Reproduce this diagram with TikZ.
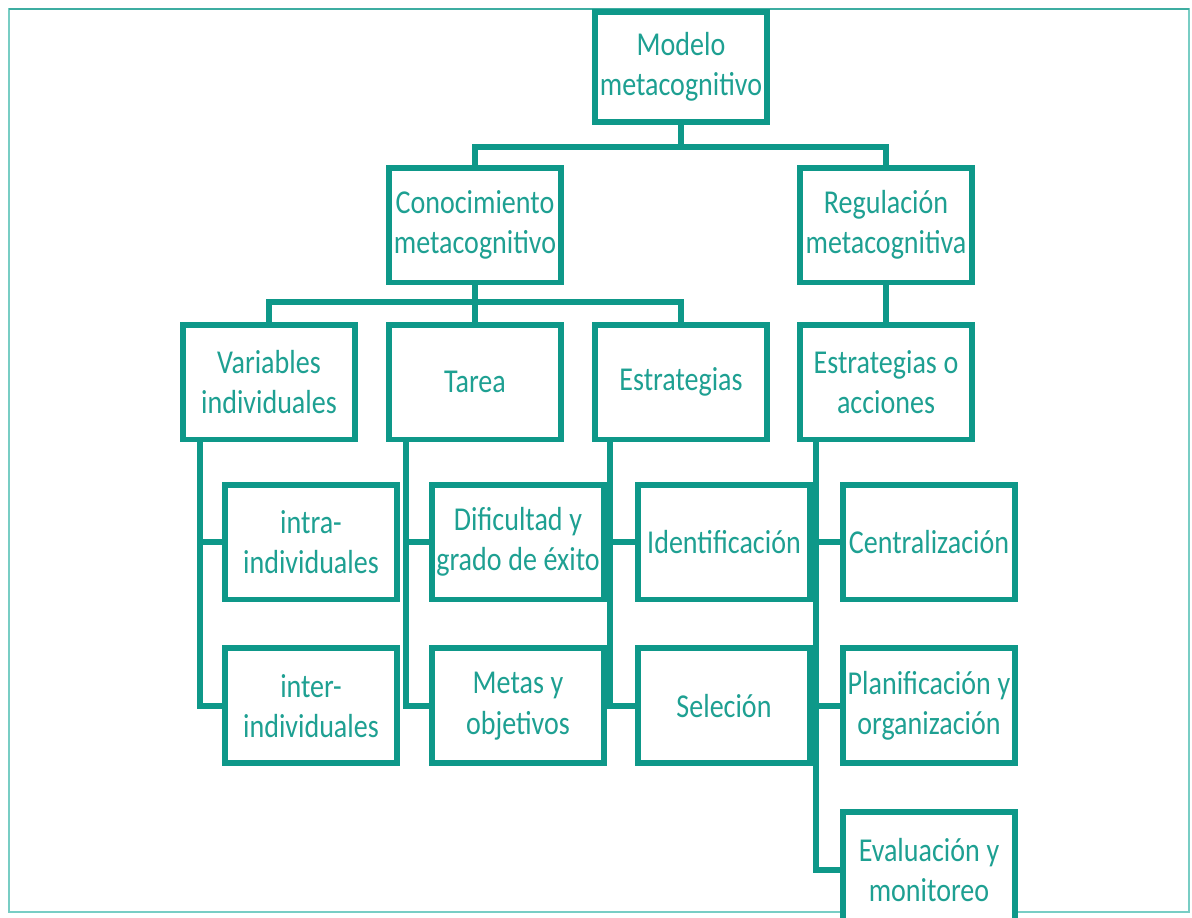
\documentclass[tikz,border=0pt]{standalone}
\usepackage{fontspec}
\setmainfont{Carlito}[FakeStretch=0.84]
\usetikzlibrary{positioning, calc}
\definecolor{metateal}{RGB}{14, 152, 137}
\definecolor{textteal}{RGB}{30, 160, 146}
\definecolor{frameteal}{RGB}{120, 205, 196}
\newcommand{\boxfont}{\fontsize{19}{23}\selectfont\fontdimen2\font=3.8pt\fontdimen3\font=0pt}
\tikzset{
    box/.style={
        draw=metateal,
        line width=3.4pt,
        fill=white,
        minimum width=3.44cm,
        minimum height=2.3cm,
        align=center,
        inner sep=0pt,
        font=\boxfont,
        text=textteal,
    },
    link/.style={
        draw=metateal,
        line width=3.4pt,
    },
}

\begin{document}
\begin{tikzpicture}[x=0.02cm, y=-0.02cm]

% ===== marco =====
\fill[white] (0,0) rectangle (1192,917);
\useasboundingbox (0,0) rectangle (1192,917);
\draw[frameteal, line width=1.4pt] (9,9) rectangle (1189,912);
\draw[metateal!80, line width=1.2pt] (9,9) -- (1189,9);

% ===== nivel 1 y 2 =====
\node[box, minimum height=2.2cm] (modelo) at (681,67) {Modelo\\metacognitivo};
\node[box] (cono) at (475,225) {Conocimiento\\metacognitivo};
\node[box] (regu) at (886,225) {Regulación\\metacognitiva};

% ===== nivel 3 =====
\node[box] (vari) at (269,382) {Variables\\individuales};
\node[box] (tarea) at (475,382) {Tarea};
\node[box] (estr) at (681,382) {Estrategias};
\node[box] (acc) at (886,382) {Estrategias o\\acciones};

% ===== hijos =====
\node[box] (intra) at (311,542) {intra-\\individuales};
\node[box, below=0.86cm of intra] (inter) {inter-\\individuales};

\node[box] (dific) at (518,542) {Dificultad y\\grado de éxito};
\node[box, below=0.86cm of dific] (metas) {Metas y\\objetivos};

\node[box] (ident) at (724,542) {Identificación};
\node[box, below=0.86cm of ident] (selec) {Seleción};

\node[box] (centr) at (929,542) {Centralización};
\node[box, below=0.86cm of centr] (plani) {Planificación y\\organización};
\node[box, below=0.86cm of plani] (evalu) {Evaluación y\\monitoreo};

% ===== conectores =====
\coordinate (bus1) at (681,147);
\coordinate (bus2) at (475,302);
\draw[link] (modelo.south) -- (bus1);
\draw[link] (cono.north) |- (bus1) -| (regu.north);
\draw[link] (cono.south) -- (tarea.north);
\draw[link] (vari.north) |- (bus2) -| (estr.north);
\draw[link] (regu.south) -- (acc.north);

\draw[link] ([xshift=0.4cm]vari.south west) |- (inter.west);
\draw[link] (intra.west) -| ([xshift=0.4cm]vari.south west);

\draw[link] ([xshift=0.4cm]tarea.south west) |- (metas.west);
\draw[link] (dific.west) -| ([xshift=0.4cm]tarea.south west);

\draw[link] ([xshift=0.35cm]estr.south west) |- (selec.west);
\draw[link] (ident.west) -| ([xshift=0.35cm]estr.south west);

\draw[link] ([xshift=0.38cm]acc.south west) |- (evalu.west);
\draw[link] (centr.west) -| ([xshift=0.38cm]acc.south west);
\draw[link] (plani.west) -| ([xshift=0.38cm]acc.south west);

\end{tikzpicture}
\end{document}
